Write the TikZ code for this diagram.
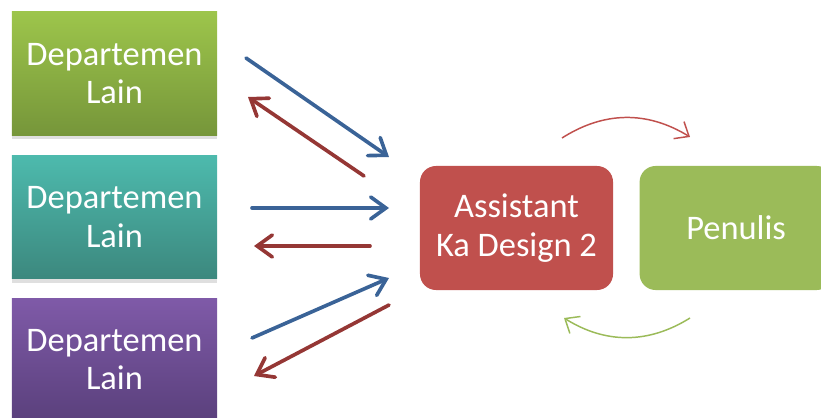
\documentclass[tikz,border=0pt]{standalone}
\usepackage{fontspec}
\setmainfont{Carlito}
\usepackage{xcolor}
\usetikzlibrary{arrows.meta,shadows,positioning}

\definecolor{deptgreenA}{HTML}{9DC54B}
\definecolor{deptgreenB}{HTML}{76963A}
\definecolor{depttealA}{HTML}{4DBAAD}
\definecolor{depttealB}{HTML}{3C887E}
\definecolor{deptpurpleA}{HTML}{7F5AA8}
\definecolor{deptpurpleB}{HTML}{5A407C}
\definecolor{asstred}{HTML}{C0504D}
\definecolor{penulisgreen}{HTML}{9BBB59}
\definecolor{flowblue}{HTML}{3A6397}
\definecolor{flowred}{HTML}{953735}

\tikzset{
  deptbox/.style={minimum width=5.125cm, minimum height=3.075cm, inner sep=0pt,
    align=center, text=white, font=\fontsize{24.5}{27.5}\selectfont,
    drop shadow={shadow xshift=0pt, shadow yshift=-3pt, opacity=0.25}},
  rolebox/.style={rounded corners=0.4cm, minimum width=4.825cm, minimum height=3.1cm,
    inner sep=0pt, align=center, text=white, font=\fontsize{24.5}{27.5}\selectfont},
  thickflow/.style={line width=2.6pt, line cap=round,
    -{Straight Barb[length=0.38cm, width=0.55cm, line cap=round]}},
  loopflow/.style={line width=1.05pt, bend left=32,
    -{Straight Barb[length=0.3cm, width=0.5cm]}}
}

\begin{document}
\begin{tikzpicture}[x=0.025cm, y=-0.025cm]
  \useasboundingbox (0,0) rectangle (821,418);

  % Departemen boxes
  \node[deptbox, top color=deptgreenA, bottom color=deptgreenB] (d1) at (114.5,73.5) {Departemen\\Lain};
  \node[deptbox, top color=depttealA, bottom color=depttealB, below=0.5cm of d1] (d2) {Departemen\\Lain};
  \node[deptbox, top color=deptpurpleA, bottom color=deptpurpleB, below=0.475cm of d2] (d3) {Departemen\\Lain};

  % Assistant and Penulis
  \node[rolebox, fill=asstred] (asst) at (516.5,228) {Assistant\\Ka Design 2};
  \node[rolebox, fill=penulisgreen, right=0.65cm of asst] (penulis) {Penulis};

  % Arrow end points
  \coordinate (b1s) at (246,58);   \coordinate (b1e) at (389,157);
  \coordinate (r1s) at (364,176);  \coordinate (r1e) at (248,97);
  \coordinate (b2s) at (252,208);  \coordinate (b2e) at (389,208);
  \coordinate (r2s) at (370,246);  \coordinate (r2e) at (254,246);
  \coordinate (b3s) at (252,338);  \coordinate (b3e) at (389,278);
  \coordinate (r3s) at (389,305);  \coordinate (r3e) at (254,376);
  \coordinate (ls) at (562,138);   \coordinate (le) at (690,137);
  \coordinate (ks) at (690,318);   \coordinate (ke) at (564,318);

  % Flows to and from the Assistant
  \draw[thickflow, flowblue] (b1s) -- (b1e);
  \draw[thickflow, flowred] (r1s) -- (r1e);
  \draw[thickflow, flowblue] (b2s) -- (b2e);
  \draw[thickflow, flowred] (r2s) -- (r2e);
  \draw[thickflow, flowblue] (b3s) -- (b3e);
  \draw[thickflow, flowred] (r3s) -- (r3e);

  % Cycle
  \draw[loopflow, asstred] (ls) to (le);
  \draw[loopflow, penulisgreen] (ks) to (ke);
\end{tikzpicture}
\end{document}
